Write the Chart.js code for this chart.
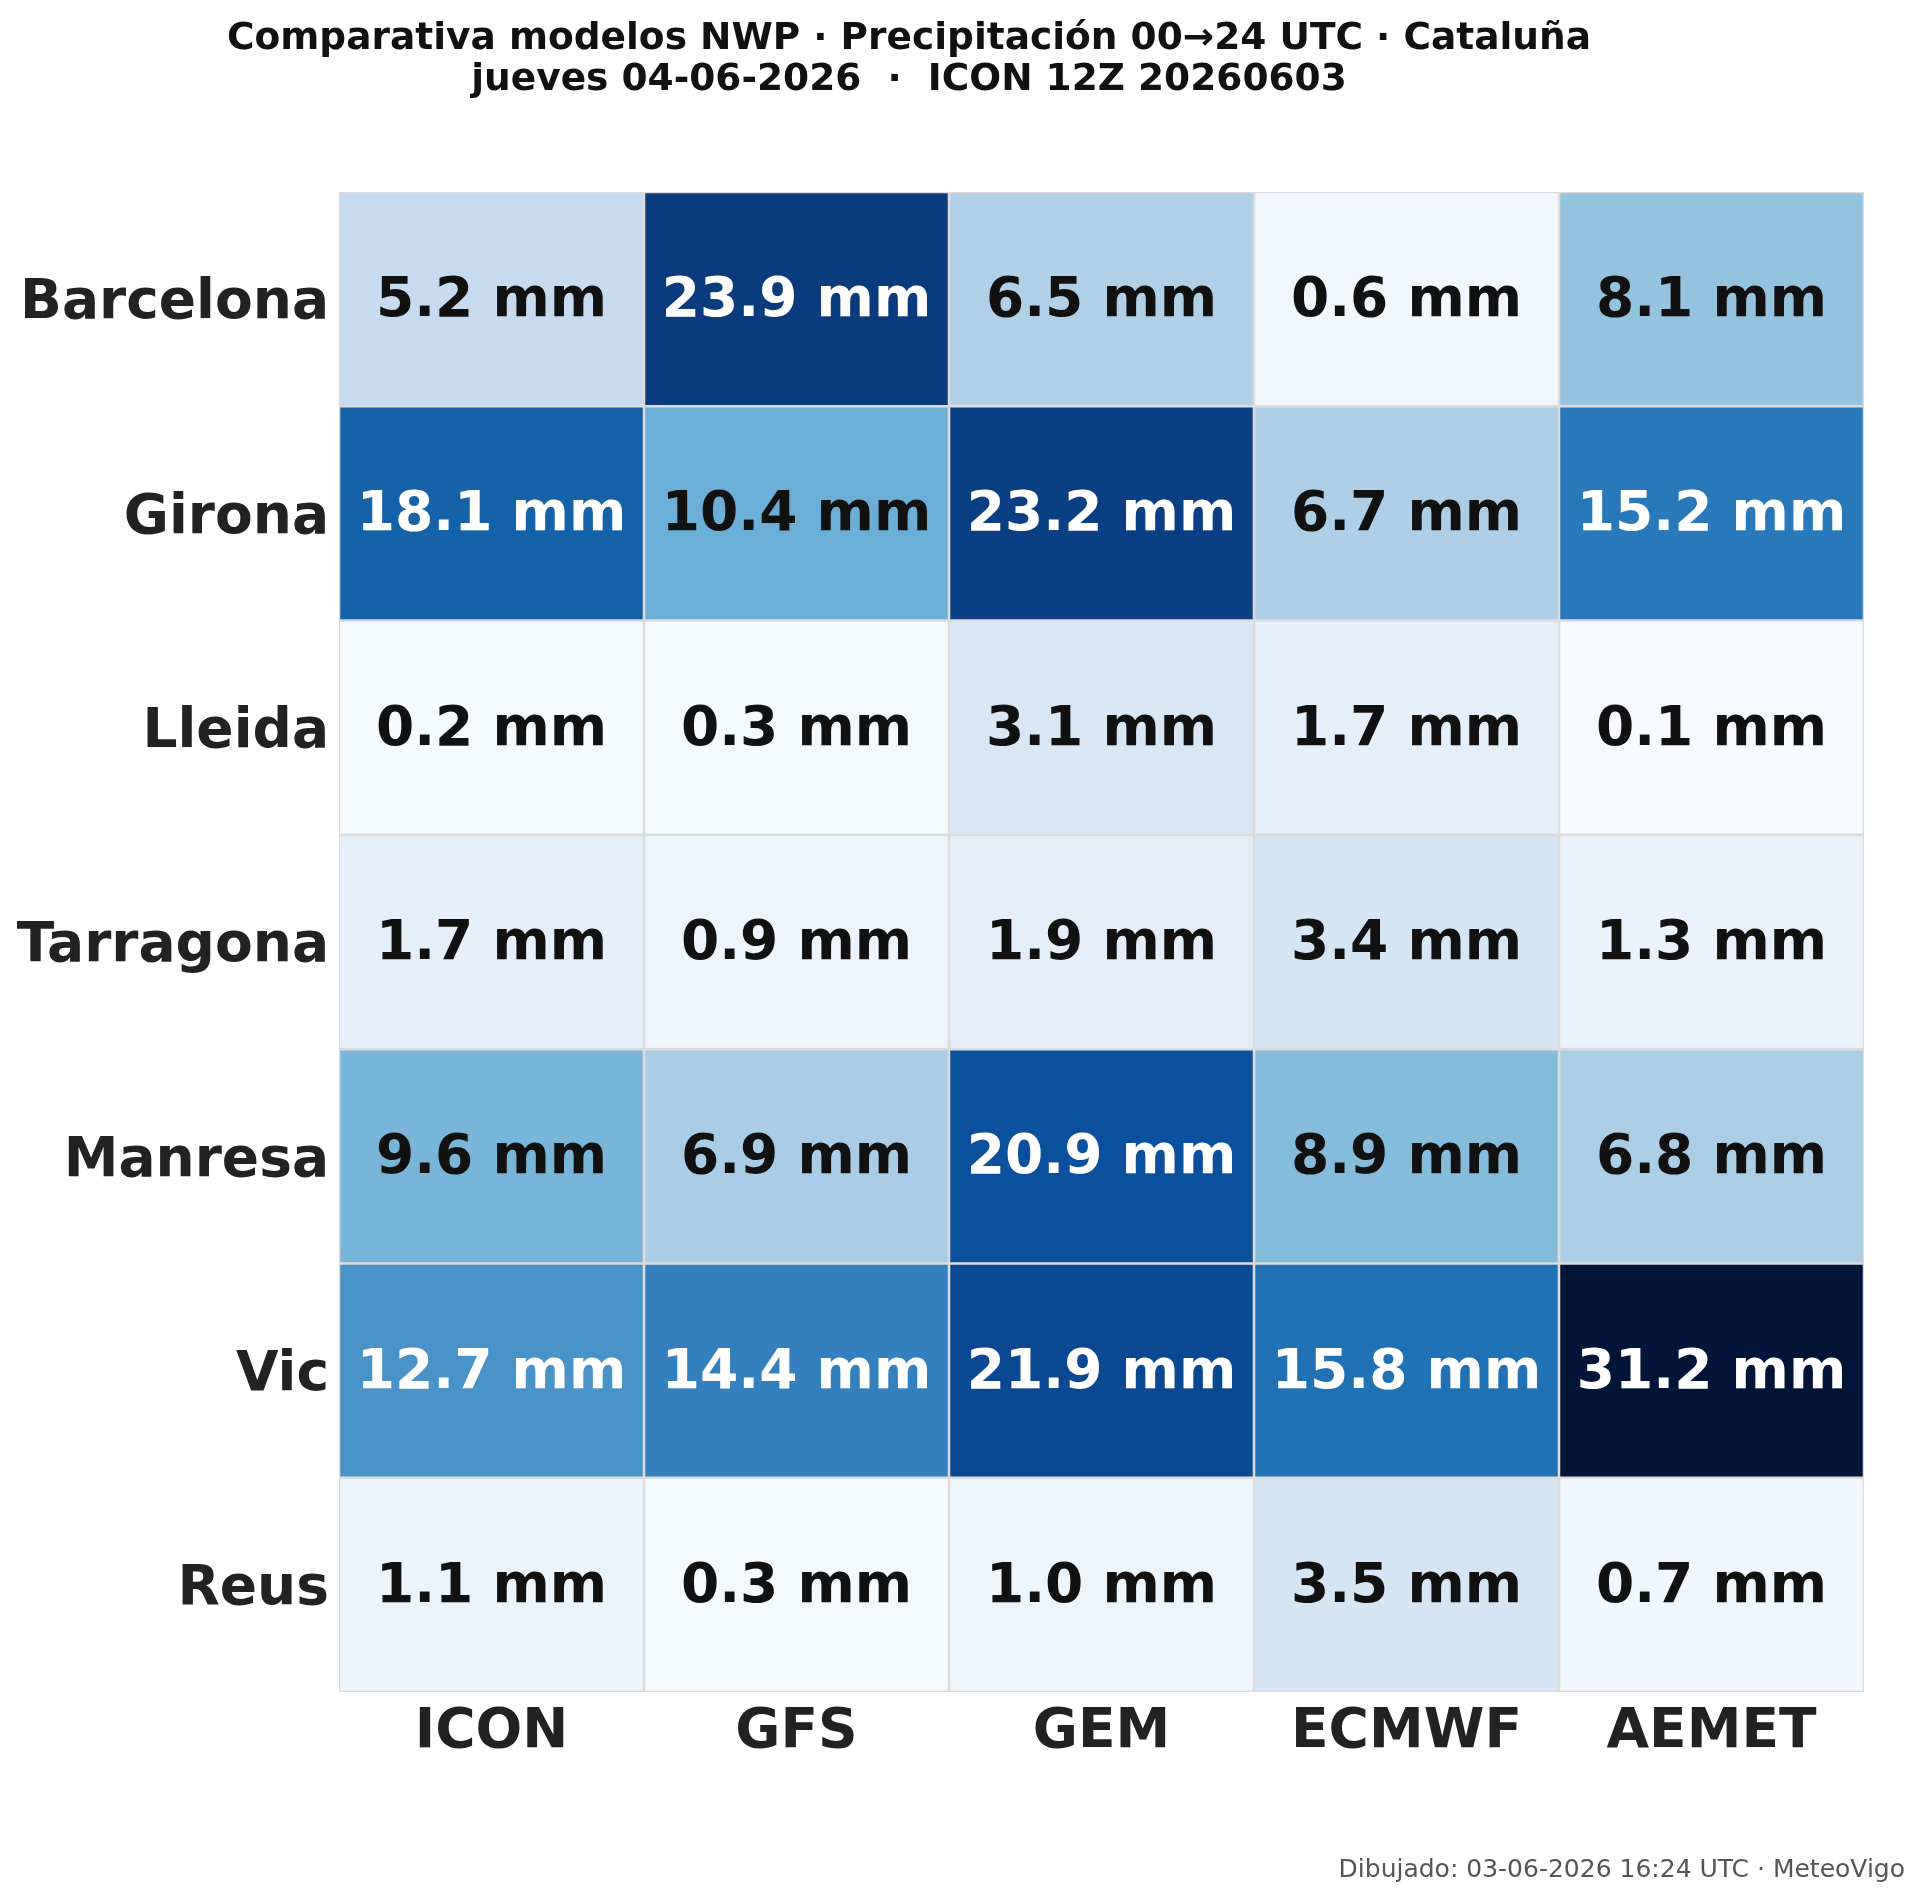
<!DOCTYPE html>
<html><head><meta charset="utf-8">
<script src="https://cdn.jsdelivr.net/npm/chart.js@4/dist/chart.umd.min.js"></script>
<style>html,body{margin:0;padding:0;background:#fff}canvas{display:block}</style>
</head><body>
<canvas id="c" width="1923" height="1899"></canvas>
<script>
const models = ['ICON', 'GFS', 'GEM', 'ECMWF', 'AEMET'];
const cities = ['Barcelona', 'Girona', 'Lleida', 'Tarragona', 'Manresa', 'Vic', 'Reus'];
const iconMm  = [5.2, 18.1, 0.2, 1.7, 9.6, 12.7, 1.1];
const gfsMm   = [23.9, 10.4, 0.3, 0.9, 6.9, 14.4, 0.3];
const gemMm   = [6.5, 23.2, 3.1, 1.9, 20.9, 21.9, 1.0];
const ecmwfMm = [0.6, 6.7, 1.7, 3.4, 8.9, 15.8, 3.5];
const aemetMm = [8.1, 15.2, 0.1, 1.3, 6.8, 31.2, 0.7];
const titleLines = ['Comparativa modelos NWP · Precipitación 00→24 UTC · Cataluña', 'jueves 04-06-2026  ·  ICON 12Z 20260603'];
const footerText = 'Dibujado: 03-06-2026 16:24 UTC · MeteoVigo';
const unit = 'mm';

const columns = [iconMm, gfsMm, gemMm, ecmwfMm, aemetMm];

// colour scale (mm -> colour)
const colourStops = [
  [0, '#f7fbff'], [1.5, '#e7f0fa'], [3.3, '#d7e6f4'], [5.2, '#c6dbef'], [7.0, '#a7cce5'],
  [8.1, '#93c3df'], [10.4, '#6baed6'], [12.7, '#4a93c8'], [15.8, '#2171b5'], [18.1, '#1562a8'],
  [20.9, '#0a509c'], [23.9, '#0a3b7c'], [31.2, '#031439']
];
function hex(h){return [parseInt(h.slice(1,3),16),parseInt(h.slice(3,5),16),parseInt(h.slice(5,7),16)];}
function colourFor(v){
  if (v <= colourStops[0][0]) return colourStops[0][1];
  for (let i = 1; i < colourStops.length; i++) {
    if (v <= colourStops[i][0]) {
      const [v0,c0] = colourStops[i-1], [v1,c1] = colourStops[i];
      const t = (v - v0) / (v1 - v0);
      const a = hex(c0), b = hex(c1);
      return 'rgb(' + a.map((x,k)=>Math.round(x + (b[k]-x)*t)).join(',') + ')';
    }
  }
  return colourStops[colourStops.length-1][1];
}

const datasets = cities.map((city, r) => ({
  label: city,
  data: models.map((m, c) => ({x: m, y: [r, r + 1], v: columns[c][r]})),
  backgroundColor: ctx => colourFor(ctx.raw ? ctx.raw.v : 0),
  borderColor: '#dcdcdc',
  borderWidth: 1.6,
  borderSkipped: false,
  grouped: false,
  barPercentage: 1,
  categoryPercentage: 1
}));

const FONT = "'DejaVu Sans', sans-serif";

const cellLabels = {
  id: 'cellLabels',
  afterDatasetsDraw(chart) {
    const ctx = chart.ctx;
    ctx.save();
    ctx.font = 'bold 55px ' + FONT;
    ctx.textAlign = 'center';
    ctx.textBaseline = 'alphabetic';
    chart.data.datasets.forEach((ds, i) => {
      chart.getDatasetMeta(i).data.forEach((el, j) => {
        const v = ds.data[j].v;
        const p = el.getProps(['x', 'y', 'base'], true);
        const cy = (p.y + p.base) / 2;
        ctx.fillStyle = v > 12 ? '#ffffff' : '#111111';
        ctx.fillText(v.toFixed(1) + ' ' + unit, p.x, cy + 17);
      });
    });
    ctx.restore();
  }
};

const texts = {
  id: 'texts',
  afterDraw(chart) {
    const ctx = chart.ctx;
    ctx.save();
    ctx.fillStyle = '#111111';
    ctx.textAlign = 'center';
    ctx.textBaseline = 'alphabetic';
    ctx.font = 'bold 37.5px ' + FONT;
    ctx.fillText(titleLines[0], 909, 49);
    ctx.fillText(titleLines[1], 909, 90);
    ctx.font = '25px ' + FONT;
    ctx.fillStyle = '#555555';
    ctx.textAlign = 'right';
    ctx.fillText(footerText, 1905, 1877);
    ctx.restore();
  }
};

new Chart(document.getElementById('c'), {
  type: 'bar',
  data: { labels: models, datasets },
  plugins: [cellLabels, texts],
  options: {
    responsive: false,
    animation: false,
    layout: { padding: { left: 0, right: 59, top: 192, bottom: 107 } },
    plugins: { legend: { display: false }, title: { display: false }, tooltip: { enabled: false } },
    scales: {
      x: {
        type: 'category',
        offset: true,
        grid: { display: false, drawTicks: false },
        border: { display: false },
        ticks: { color: '#222222', font: { family: FONT, size: 55, weight: 'bold' }, padding: 8, maxRotation: 0, autoSkip: false },
        afterFit(s) { s.height = 100; }
      },
      y: {
        type: 'linear',
        min: 0, max: cities.length,
        reverse: true,
        grid: { display: false, drawTicks: false },
        border: { display: false },
        afterBuildTicks(s) { s.ticks = cities.map((c, i) => ({ value: i + 0.5 })); },
        ticks: {
          color: '#222222', font: { family: FONT, size: 55, weight: 'bold' }, padding: 10,
          labelOffset: 5,
          autoSkip: false,
          callback: (val) => cities[Math.floor(val)]
        },
        afterFit(s) { s.width = 339; }
      }
    }
  }
});
</script>
</body></html>
